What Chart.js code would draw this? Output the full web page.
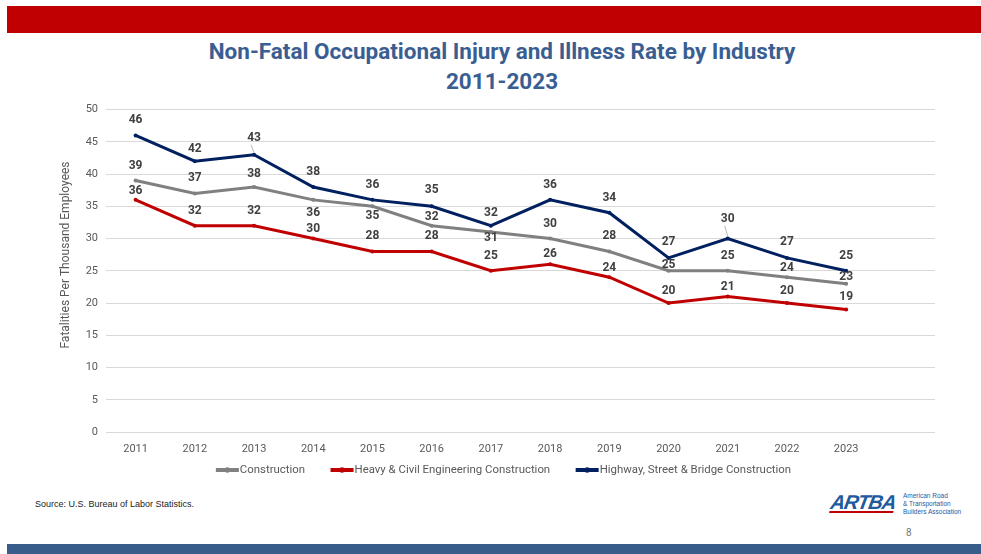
<!DOCTYPE html>
<html>
<head>
<meta charset="utf-8">
<script src="https://cdn.jsdelivr.net/npm/chart.js@4/dist/chart.umd.min.js"></script>
<style>
  html,body{margin:0;padding:0;background:#fff;}
  body{width:981px;height:554px;position:relative;overflow:hidden;font-family:'Roboto',sans-serif;}
  #topbar{position:absolute;left:7px;top:6px;width:974px;height:27px;background:#C00000;}
  #botbar{position:absolute;left:7px;top:544px;width:974px;height:10px;background:#385D8A;}
  #title{position:absolute;left:0;top:36px;width:1004px;text-align:center;color:#3A5E91;font-weight:bold;font-size:22.5px;line-height:30px;font-family:'Roboto',sans-serif;}
  #wrap{position:absolute;left:50px;top:95px;width:900px;height:392px;}
  #source{position:absolute;left:35px;top:499px;font-size:9px;color:#222;font-family:'Liberation Sans',sans-serif;}
  #pg{position:absolute;left:906px;top:527px;font-size:10px;color:#777;}
  #logo{position:absolute;left:831px;top:491px;width:140px;height:28px;}
  #logo .mark{position:absolute;left:0;top:0;font:italic 900 20px 'Liberation Sans',sans-serif;color:#1F5A9E;letter-spacing:-1px;transform:skewX(-10deg);}
  #logo .mark:after{content:'';position:absolute;left:0;top:20px;width:64px;height:2px;background:#C00000;}
  #logo .txt{position:absolute;left:72px;top:1px;font-size:6.5px;line-height:8px;color:#1F5A9E;font-family:'Liberation Sans',sans-serif;}
</style>
</head>
<body>
<div id="topbar"></div>
<div id="title">Non-Fatal Occupational Injury and Illness Rate by Industry<br>2011-2023</div>
<div id="wrap"><canvas id="c"></canvas></div>
<div id="source">Source: U.S. Bureau of Labor Statistics.</div>
<div id="logo"><div class="mark">ARTBA</div><div class="txt">American Road<br>&amp; Transportation<br>Builders Association</div></div>
<div id="pg">8</div>
<div id="botbar"></div>
<script>
const years = ['2011','2012','2013','2014','2015','2016','2017','2018','2019','2020','2021','2022','2023',''];
const construction = [39,37,38,36,35,32,31,30,28,25,25,24,23];
const heavyCivil   = [36,32,32,30,28,28,25,26,24,20,21,20,19];
const highway      = [46,42,43,38,36,35,32,36,34,27,30,27,25];
const seriesNames = ['Construction','Heavy & Civil Engineering Construction','Highway, Street & Bridge Construction'];
const yTicks = [0,5,10,15,20,25,30,35,40,45,50];
const yTitle = 'Fatalities Per Thousand Employees';

// label vertical offsets (px) relative to point, style only
const offC = [-15,-15,-13,13,10,-9,6,-15,-15,-6,-15,-9,-7];
const offH = [-9,-15,-15,-10,-15,-15,-15,-10,-9,-12,-10,-12,-12];
const offB = [-15,-12,-17,-15,-15,-16,-13,-15,-15,-16,-20,-16,-15];
const leadB = [false,false,true,false,false,false,false,false,false,false,true,false,false];

const FONT = "'Roboto',sans-serif";

const labelPlugin = {
  id:'pointLabels',
  afterDatasetsDraw(chart){
    const ctx = chart.ctx;
    ctx.save();
    ctx.font = "bold 12px " + FONT;
    ctx.fillStyle = '#404040';
    ctx.textAlign = 'center';
    ctx.textBaseline = 'middle';
    chart.data.datasets.forEach((ds,i)=>{
      const meta = chart.getDatasetMeta(i);
      meta.data.forEach((pt,j)=>{
        const v = ds.data[j];
        if (v == null) return;
        const dy = ds.labelOffsets[j];
        if (ds.leaders && ds.leaders[j]) {
          ctx.strokeStyle = '#A6A6A6'; ctx.lineWidth = 0.8;
          ctx.beginPath(); ctx.moveTo(pt.x - 3, pt.y + dy + 7); ctx.lineTo(pt.x, pt.y - 2); ctx.stroke();
        }
        ctx.fillText(String(v), pt.x, pt.y + dy);
      });
    });
    ctx.restore();
  }
};

// custom legend (line marker directly followed by text) + y-axis title
const legendPlugin = {
  id:'slideLegend',
  afterDraw(chart){
    const ctx = chart.ctx;
    ctx.save();
    // y title
    ctx.font = "12px " + FONT;
    ctx.fillStyle = '#595959';
    ctx.textAlign = 'center';
    ctx.textBaseline = 'middle';
    ctx.translate(16, 160);
    ctx.rotate(-Math.PI/2);
    ctx.fillText(yTitle, 0, 0);
    ctx.restore();

    ctx.save();
    ctx.font = "11.4px " + FONT;
    ctx.textBaseline = 'middle';
    ctx.textAlign = 'left';
    const mark = 23, gapT = 1, gapI = 25.5;
    const items = chart.data.datasets.map(ds => ({ text: ds.label, color: ds.borderColor, w: ctx.measureText(ds.label).width }));
    const total = items.reduce((a, it) => a + mark + gapT + it.w, 0) + gapI * (items.length - 1);
    let x = chart.width / 2 - total / 2 + 3.5;
    const y = chart.chartArea.bottom + 38;
    items.forEach(it => {
      ctx.fillStyle = it.color;
      ctx.fillRect(x, y - 2, mark, 4);
      ctx.beginPath(); ctx.arc(x + mark / 2, y, 2.8, 0, Math.PI * 2); ctx.fill();
      ctx.fillStyle = '#595959';
      ctx.fillText(it.text, x + mark + gapT, y);
      x += mark + gapT + it.w + gapI;
    });
    ctx.restore();
  }
};

const mk = (name, data, color, offs, leaders) => ({
  label: name, data, borderColor: color, backgroundColor: color,
  borderWidth: 3, pointRadius: 2, pointBorderWidth: 0, pointBackgroundColor: color,
  tension: 0, labelOffsets: offs, leaders
});

new Chart(document.getElementById('c'), {
  type: 'line',
  data: {
    labels: years,
    datasets: [
      mk(seriesNames[0], construction, '#808080', offC),
      mk(seriesNames[1], heavyCivil, '#C00000', offH),
      mk(seriesNames[2], highway, '#002060', offB, leadB)
    ]
  },
  options: {
    responsive: true, maintainAspectRatio: false, animation: false,
    layout: { padding: { left: 0, right: 15, top: 8, bottom: 27 } },
    plugins: {
      tooltip: { enabled: false },
      legend: { display: false }
    },
    scales: {
      x: {
        offset: true,
        grid: { display: false, drawTicks: false },
        border: { display: false },
        ticks: { color: '#595959', padding: 11, maxRotation: 0, font: { size: 11, family: FONT } },
        afterFit: s => { s.height = 28; }
      },
      y: {
        min: 0, max: 50,
        afterBuildTicks: s => { s.ticks = yTicks.map(v => ({ value: v })); },
        grid: { color: '#D9D9D9', lineWidth: 1, drawTicks: false },
        border: { display: false },
        ticks: { color: '#595959', padding: 8, font: { size: 11, family: FONT } },
        title: { display: false },
        afterFit: s => { s.width = 56; }
      }
    }
  },
  plugins: [labelPlugin, legendPlugin]
});
</script>
</body>
</html>
